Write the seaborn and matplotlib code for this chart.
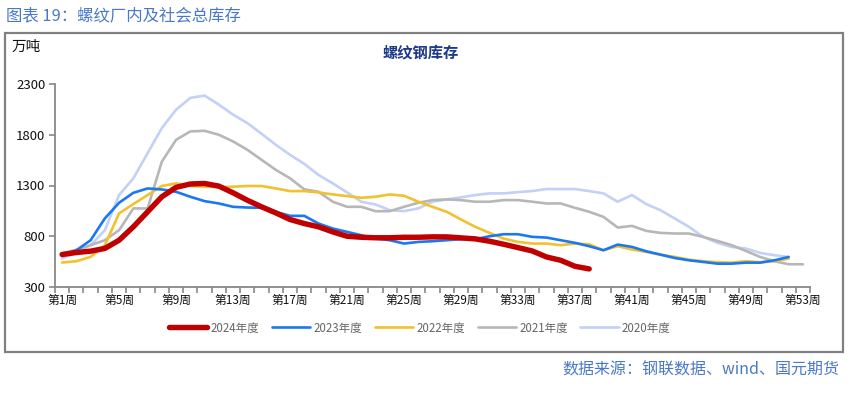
import numpy as np
import pandas as pd
import matplotlib
matplotlib.use("Agg")
import matplotlib.pyplot as plt
import matplotlib.patches as mpatches
import seaborn as sns

sns.set_theme(style="white")
plt.rcParams['font.family'] = ['Noto Sans CJK SC', 'DejaVu Sans']
plt.rcParams['axes.unicode_minus'] = False

years = ["2024年度", "2023年度", "2022年度", "2021年度", "2020年度"]
colors = ["#C00000", "#1A78F0", "#F2C12E", "#B7B7B7", "#C2D1F5"]

y2024 = [620, 640, 653, 680, 761, 893, 1041, 1189, 1282, 1315, 1320, 1294, 1228, 1155,
         1090, 1030, 965, 925, 893, 843, 800, 790, 785, 785, 790, 790, 794, 794, 784,
         774, 751, 721, 688, 655, 596, 563, 504, 478]
y2023 = [613, 661, 761, 976, 1130, 1228, 1271, 1261, 1238, 1189, 1146, 1123, 1090, 1083,
         1080, 1041, 1001, 1001, 925, 876, 843, 810, 777, 761, 728, 744, 751, 761, 771,
         771, 800, 820, 820, 794, 787, 761, 735, 702, 662, 718, 695, 652, 619, 586, 563,
         547, 530, 530, 540, 540, 563, 596]
y2022 = [541, 554, 597, 712, 1025, 1117, 1206, 1295, 1321, 1295, 1288, 1285, 1288, 1295,
         1295, 1271, 1245, 1245, 1232, 1212, 1196, 1179, 1189, 1212, 1199, 1140, 1090,
         1041, 965, 893, 833, 777, 744, 728, 728, 712, 728, 721, 662, 702, 669, 646, 619,
         597, 570, 554, 544, 540, 554, 544, 554, 580]
y2021 = [630, 668, 712, 761, 860, 1074, 1074, 1535, 1750, 1833, 1839, 1800, 1734, 1652,
         1553, 1454, 1371, 1262, 1238, 1140, 1090, 1090, 1047, 1047, 1090, 1130, 1156,
         1163, 1156, 1140, 1140, 1156, 1156, 1140, 1123, 1123, 1080, 1041, 991, 886, 902,
         853, 833, 827, 827, 794, 754, 712, 655, 596, 554, 524, 524]
y2020 = [581, 645, 712, 860, 1206, 1371, 1618, 1866, 2047, 2163, 2186, 2097, 1998, 1915,
         1810, 1701, 1602, 1513, 1404, 1321, 1232, 1140, 1113, 1057, 1047, 1074, 1140,
         1163, 1183, 1206, 1222, 1222, 1235, 1245, 1265, 1265, 1265, 1245, 1222, 1140,
         1206, 1117, 1057, 975, 893, 794, 735, 695, 679, 636, 613, 596]

series = [y2024, y2023, y2022, y2021, y2020]
rows = []
for name, vals in zip(years, series):
    for i, v in enumerate(vals):
        rows.append({"week": i + 1, "value": v, "year": name})
df = pd.DataFrame(rows)

W, H = 850, 393
fig = plt.figure(figsize=(W / 100, H / 100), dpi=100)
ax = fig.add_axes([55 / W, 1 - 287 / H, (810 - 55) / W, (287 - 84) / H])

# draw in reverse order so 2024 is on top
order = years[::-1]
pal = dict(zip(years, colors))
for name in order:
    sub = df[df["year"] == name]
    lw = 3.9 if name == "2024年度" else 1.9
    sns.lineplot(data=sub, x="week", y="value", color=pal[name], lw=lw, ax=ax,
                 label=None, legend=False, solid_capstyle="round")

ax.set_xlim(0.5, 53.5)
ax.set_ylim(300, 2300)
ax.set_xlabel("")
ax.set_ylabel("")
ax.set_yticks(np.arange(300, 2301, 500))
ax.set_yticklabels([str(v) for v in range(300, 2301, 500)], fontsize=9.5, color="#111111")
wk_ticks = list(range(1, 54, 4))
ax.set_xticks(wk_ticks)
ax.set_xticklabels([f"第{w}周" for w in wk_ticks], fontsize=8.5, color="#111111")
ax.set_xticks(np.arange(0.5, 54, 1), minor=True)
ax.tick_params(axis="x", which="major", length=0, pad=5)
ax.tick_params(axis="x", which="minor", length=4, width=1.2, color="#888888", direction="out", bottom=True)
ax.tick_params(axis="y", which="major", length=4, width=1.2, color="#888888", direction="out", left=True, pad=3)
for s in ["top", "right"]:
    ax.spines[s].set_visible(False)
for s in ["left", "bottom"]:
    ax.spines[s].set_color("#888888")
    ax.spines[s].set_linewidth(1.3)
ax.grid(False)
ax.patch.set_alpha(0)

# legend
handles = [plt.Line2D([0], [0], color=c, lw=(3.9 if y == "2024年度" else 1.9), solid_capstyle="round")
           for y, c in zip(years, colors)]
leg = fig.legend(handles, years, loc="center", bbox_to_anchor=(420 / W, 1 - 328 / H), ncol=5,
                 frameon=False, fontsize=8.3, handlelength=3.3, handletextpad=0.3, columnspacing=1.1)
for t in leg.get_texts():
    t.set_color("#666666")

# border box
fig.patches.append(mpatches.Rectangle((5 / W, 1 - 352 / H), 838 / W, 319 / H,
                                      transform=fig.transFigure, fill=False,
                                      edgecolor="#808080", lw=1.6))

fig.text(6 / W, 1 - 16 / H, "图表 19：螺纹厂内及社会总库存", fontsize=11.8, color="#4A78C8",
         va="center", ha="left")
fig.text(12 / W, 1 - 47 / H, "万吨", fontsize=10.5, color="#111111", va="center", ha="left")
fig.text(421 / W, 1 - 52 / H, "螺纹钢库存", fontsize=11, color="#1F3A8A", weight="bold",
         va="center", ha="center")
fig.text(839 / W, 1 - 370 / H, "数据来源：钢联数据、wind、国元期货", fontsize=11.5, color="#4A78C8",
         va="center", ha="right")

fig.savefig("out.png", dpi=100)
